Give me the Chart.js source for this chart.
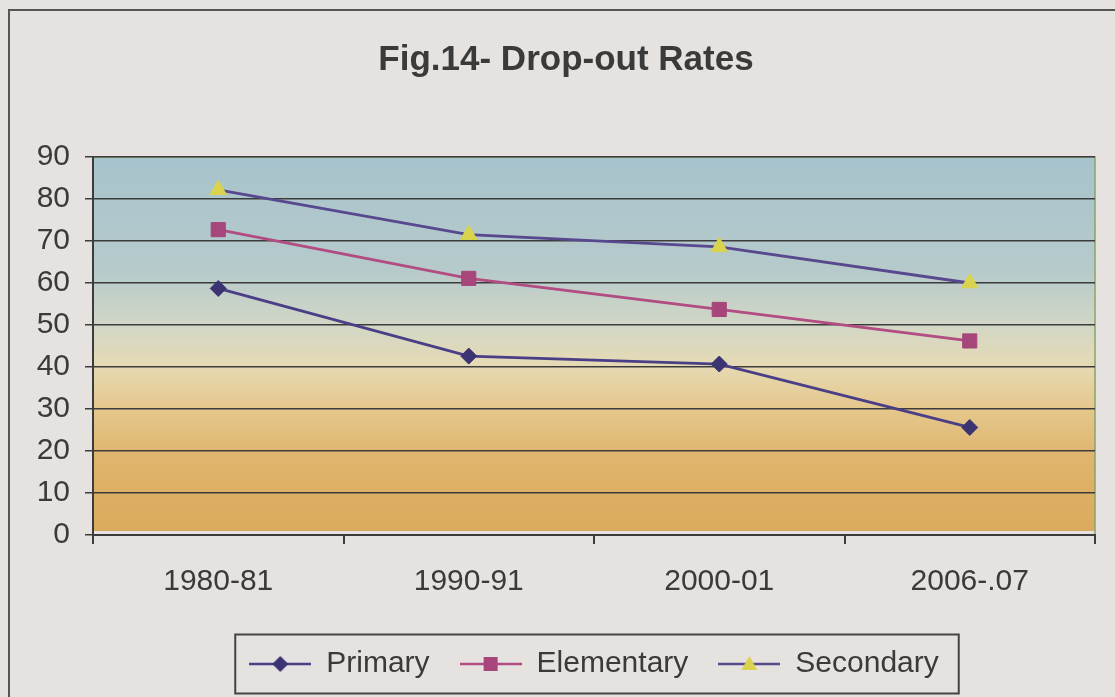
<!DOCTYPE html>
<html>
<head>
<meta charset="utf-8">
<title>Drop-out Rates</title>
<script src="https://cdn.jsdelivr.net/npm/chart.js@4.4.0/dist/chart.umd.min.js"></script>
<style>
    html, body { margin: 0; padding: 0; background: #e6e2df; }
    canvas { display: block; }
</style>
</head>
<body>
<canvas id="grafico" width="1115" height="697"></canvas>
<script>
const anni = ['1980-81', '1990-91', '2000-01', '2006-.07'];
const primary = [58.7, 42.6, 40.7, 25.6];
const elementary = [72.7, 61.1, 53.7, 46.2];
const secondary = [82.2, 71.5, 68.6, 60.0];
const yTicks = [0, 10, 20, 30, 40, 50, 60, 70, 80, 90];

const FONT = "'Liberation Sans', Arial, sans-serif";
const TESTO = '#3a3a3a';
const GRIGLIA = '#3c3c3c';

// simbolo della legenda: linea + marker al centro
function simbolo(colLinea, colMarker, forma) {
    const c = document.createElement('canvas');
    c.width = 62;
    c.height = 20;
    const g = c.getContext('2d');
    g.strokeStyle = colLinea;
    g.lineWidth = 2.5;
    g.beginPath();
    g.moveTo(0, 10);
    g.lineTo(62, 10);
    g.stroke();
    g.fillStyle = colMarker;
    g.beginPath();
    if (forma === 'rombo') {
        g.moveTo(31, 2); g.lineTo(39, 10); g.lineTo(31, 18); g.lineTo(23, 10);
    } else if (forma === 'quadrato') {
        g.rect(24, 3, 14, 14);
    } else {
        g.moveTo(31, 2); g.lineTo(39, 16); g.lineTo(23, 16);
    }
    g.closePath();
    g.fill();
    return c;
}

const serie = [
    { label: 'Primary', data: primary, linea: '#4a3f86', marker: '#3b3372', stile: 'rectRot', raggio: 8, forma: 'rombo' },
    { label: 'Elementary', data: elementary, linea: '#b24c82', marker: '#a6467a', stile: 'rect', raggio: 10, forma: 'quadrato' },
    { label: 'Secondary', data: secondary, linea: '#58488e', marker: '#d9d34e', stile: 'triangle', raggio: 9.5, forma: 'triangolo' }
];

const sfondoPlot = {
    id: 'sfondoPlot',
    beforeDraw(chart) {
        const { ctx, chartArea: a } = chart;
        ctx.save();
        // cornice esterna
        ctx.strokeStyle = '#555';
        ctx.lineWidth = 2;
        ctx.strokeRect(9, 10, 1200, 800);
        const grad = ctx.createLinearGradient(0, a.top, 0, a.bottom);
        grad.addColorStop(0, '#a7c3cc');
        grad.addColorStop(0.3, '#b6cacb');
        grad.addColorStop(0.45, '#d3d7c5');
        grad.addColorStop(0.55, '#e6dab4');
        grad.addColorStop(0.66, '#e5c88e');
        grad.addColorStop(0.8, '#dfb46c');
        grad.addColorStop(1, '#dba95b');
        ctx.fillStyle = grad;
        ctx.fillRect(a.left, a.top, a.right - a.left, a.bottom - a.top - 4);
        ctx.strokeStyle = '#8aa468';
        ctx.lineWidth = 1.5;
        ctx.beginPath();
        ctx.moveTo(a.left, a.top);
        ctx.lineTo(a.right, a.top);
        ctx.lineTo(a.right, a.bottom);
        ctx.stroke();
        ctx.restore();
    },
    afterDraw(chart) {
        // riquadro attorno alla legenda
        const boxes = chart.legend.legendHitBoxes;
        if (!boxes || !boxes.length) return;
        const primo = boxes[0];
        const ultimo = boxes[boxes.length - 1];
        const cy = primo.top + primo.height / 2;
        const x0 = primo.left - 14;
        const x1 = ultimo.left + ultimo.width + 20;
        const ctx = chart.ctx;
        ctx.save();
        ctx.strokeStyle = '#444';
        ctx.lineWidth = 2;
        ctx.strokeRect(x0, cy - 29.5, x1 - x0, 59);
        ctx.restore();
    }
};

new Chart(document.getElementById('grafico'), {
    type: 'line',
    data: {
        labels: anni,
        datasets: serie.map(s => ({
            label: s.label,
            data: s.data,
            borderColor: s.linea,
            backgroundColor: s.marker,
            borderWidth: 2.8,
            pointStyle: s.stile,
            pointRadius: s.raggio,
            pointBackgroundColor: s.marker,
            pointBorderColor: s.marker,
            pointBorderWidth: 1,
            tension: 0,
            fill: false
        }))
    },
    options: {
        responsive: false,
        animation: false,
        devicePixelRatio: 1,
        layout: { padding: { left: 37, right: 20, top: 0, bottom: 8 } },
        plugins: {
            title: {
                display: true,
                text: 'Fig.14- Drop-out Rates',
                color: TESTO,
                font: { family: FONT, size: 35, weight: 'bold' },
                padding: { top: 39, bottom: 76 }
            },
            legend: {
                position: 'bottom',
                fullSize: false,
                maxHeight: 80,
                labels: {
                    color: TESTO,
                    font: { family: FONT, size: 30 },
                    usePointStyle: true,
                    pointStyleWidth: 62,
                    padding: 30,
                    generateLabels: chart => serie.map((s, i) => ({
                        text: s.label,
                        fillStyle: s.marker,
                        strokeStyle: s.linea,
                        pointStyle: simbolo(s.linea, s.marker, s.forma),
                        fontColor: TESTO,
                        lineWidth: 0,
                        datasetIndex: i
                    }))
                }
            },
            tooltip: { enabled: false }
        },
        scales: {
            x: {
                offset: true,
                grid: { offset: true, drawOnChartArea: false, drawTicks: true, tickLength: 9, color: GRIGLIA, lineWidth: 2 },
                border: { display: true, color: GRIGLIA, width: 2 },
                ticks: { color: TESTO, font: { family: FONT, size: 30 }, padding: 20, maxRotation: 0 },
                afterFit: s => { s.height = 84; }
            },
            y: {
                min: 0,
                max: 90,
                afterBuildTicks: s => { s.ticks = yTicks.map(v => ({ value: v })); },
                grid: { color: GRIGLIA, lineWidth: 1.5, drawTicks: true, tickLength: 8 },
                border: { display: true, color: GRIGLIA, width: 2 },
                ticks: { color: TESTO, font: { family: FONT, size: 30 }, padding: 15 },
                afterFit: s => { s.width = 56; }
            }
        }
    },
    plugins: [sfondoPlot]
});
</script>
</body>
</html>
